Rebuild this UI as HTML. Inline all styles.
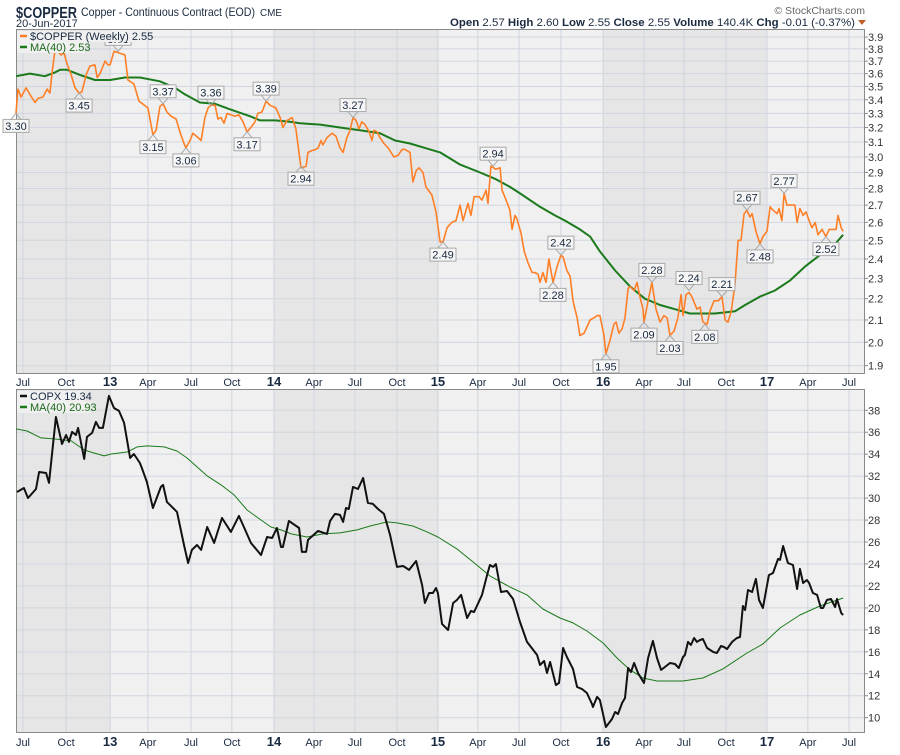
<!DOCTYPE html>
<html><head><meta charset="utf-8"><style>
html,body{margin:0;padding:0;background:#fff;}
svg text{font-family:"Liberation Sans",Arial,sans-serif;}
</style></head>
<body>
<svg id="chart" width="900" height="750" viewBox="0 0 900 750" xmlns="http://www.w3.org/2000/svg">
<g>
<text x="16" y="18" font-size="16" font-weight="bold" fill="#1a2a40" textLength="61" lengthAdjust="spacingAndGlyphs">$COPPER</text>
<text x="81" y="16" font-size="12" fill="#1a2a40" textLength="174" lengthAdjust="spacingAndGlyphs">Copper - Continuous Contract (EOD)</text>
<text x="260" y="16" font-size="10" fill="#1a2a40" textLength="22" lengthAdjust="spacingAndGlyphs">CME</text>
<text x="16" y="27" font-size="11" fill="#1a2a40">20-Jun-2017</text>
<text x="865" y="14" font-size="10.5" fill="#666" text-anchor="end">© StockCharts.com</text>
<text x="450" y="26" font-size="11" fill="#1a2a40" textLength="405" lengthAdjust="spacingAndGlyphs"><tspan font-weight="bold">Open</tspan> 2.57 <tspan font-weight="bold">High</tspan> 2.60 <tspan font-weight="bold">Low</tspan> 2.55 <tspan font-weight="bold">Close</tspan> 2.55 <tspan font-weight="bold">Volume</tspan> 140.4K <tspan font-weight="bold">Chg</tspan> -0.01 (-0.37%)</text>
<polygon points="858,20 866,20 862,25" fill="#c0602a"/>
</g>
<g id="p1"></g>
<g id="xa1"></g>
<g id="p2"></g>
<g id="xa2"></g>
</svg>
<script>
// ---- data ----
const tickWeeks=[2.2,15.8,29.7,41.6,55.2,68.1,81.4,94.0,106.9,120.2,133.1,145.7,158.7,171.9,185.2,198.1,210.7,224.0,236.9,249.8,262.8];
const tickLabels=["Jul","Oct","13","Apr","Jul","Oct","14","Apr","Jul","Oct","15","Apr","Jul","Oct","16","Apr","Jul","Oct","17","Apr","Jul"];
const yearStartWeeks=[0,29.7,81.4,133.1,185.2,236.9,262.8];
const copperTicks=[1.9,2.0,2.1,2.2,2.3,2.4,2.5,2.6,2.7,2.8,2.9,3.0,3.1,3.2,3.3,3.4,3.5,3.6,3.7,3.8,3.9];
const copxTicks=[10,12,14,16,18,20,22,24,26,28,30,32,34,36,38];
const copperWeeks=[0,0.6,1.6,3.2,4.4,6.0,6.9,8.5,9.8,10.7,11.4,12.3,13.2,14.2,15.1,16.1,17.4,18.6,19.9,20.8,22.1,23.3,24.9,25.6,26.5,28.1,29.0,29.7,30.9,32.2,34.4,35.3,37.2,38.8,41.6,43.2,44.2,45.4,46.4,47.6,48.9,50.5,51.7,53.0,53.6,54.9,55.8,57.4,58.4,59.6,60.6,61.5,62.8,63.7,64.7,65.6,66.6,67.8,69.1,70.3,71.6,72.9,74.1,75.4,76.3,77.6,78.9,80.1,82.0,83.3,84.2,85.5,87.1,88.3,89.9,91.5,92.1,93.1,94.6,95.3,96.2,96.8,98.1,99.7,100.9,102.2,103.2,104.4,105.4,106.3,107.3,108.2,109.1,110.1,111.4,112.3,112.9,113.9,114.8,116.1,117.4,119.2,120.5,121.8,122.7,124.3,125.2,126.2,127.1,128.4,129.3,131.2,132.5,133.8,134.7,136.0,137.5,138.8,140.1,141.0,142.6,143.5,144.5,146.1,147.0,148.3,148.9,149.8,151.4,152.7,153.3,154.6,155.8,156.5,157.4,158.0,159.3,160.3,161.5,162.8,163.7,164.7,165.3,166.2,167.2,168.1,169.4,170.7,171.9,172.6,173.8,174.8,175.7,177.0,177.9,179.2,181.1,182.3,183.3,184.2,185.5,186.1,187.4,188.6,189.3,190.2,191.2,192.1,193.1,193.7,195.0,195.9,196.8,197.8,198.1,199.4,200.6,201.9,203.2,204.4,205.4,206.3,207.6,208.8,209.8,210.4,211.4,212.3,213.2,214.8,215.8,216.7,218.0,218.9,220.2,221.5,222.7,223.7,224.6,225.6,226.8,227.8,228.7,229.7,230.6,231.5,232.2,233.4,234.7,235.6,236.9,237.9,238.8,240.1,240.7,241.6,242.3,243.2,244.5,245.7,246.4,247.3,248.3,249.2,250.2,251.1,252.1,253.0,254.3,255.5,256.5,257.7,258.7,259.3,260.3,260.9];
const copperValues=[3.30,3.48,3.42,3.49,3.44,3.38,3.41,3.42,3.48,3.45,3.61,3.79,3.78,3.75,3.77,3.68,3.59,3.49,3.45,3.46,3.59,3.66,3.67,3.57,3.60,3.70,3.67,3.67,3.78,3.77,3.75,3.55,3.52,3.39,3.34,3.15,3.18,3.35,3.37,3.31,3.28,3.26,3.17,3.09,3.06,3.11,3.16,3.13,3.11,3.27,3.34,3.36,3.36,3.26,3.27,3.23,3.30,3.29,3.28,3.29,3.24,3.17,3.20,3.24,3.30,3.31,3.39,3.36,3.34,3.27,3.20,3.25,3.27,3.19,2.93,2.94,3.03,3.04,3.05,3.06,3.11,3.08,3.13,3.16,3.14,3.06,3.03,3.13,3.18,3.27,3.25,3.19,3.24,3.22,3.17,3.11,3.18,3.17,3.13,3.09,3.06,3.00,3.01,3.05,3.05,3.03,2.84,2.91,2.93,2.90,2.81,2.76,2.66,2.49,2.49,2.57,2.60,2.61,2.70,2.61,2.71,2.64,2.75,2.75,2.73,2.79,2.71,2.94,2.92,2.93,2.79,2.73,2.67,2.56,2.64,2.62,2.54,2.44,2.38,2.33,2.33,2.32,2.28,2.33,2.28,2.40,2.28,2.36,2.42,2.41,2.34,2.31,2.19,2.11,2.03,2.04,2.10,2.11,2.12,2.12,2.03,1.95,2.01,2.08,2.09,2.04,2.06,2.11,2.25,2.26,2.24,2.28,2.21,2.15,2.09,2.19,2.28,2.15,2.09,2.12,2.11,2.03,2.05,2.11,2.22,2.12,2.22,2.23,2.21,2.15,2.16,2.09,2.08,2.14,2.19,2.19,2.21,2.10,2.09,2.14,2.27,2.50,2.50,2.65,2.67,2.63,2.65,2.55,2.48,2.52,2.55,2.69,2.67,2.65,2.68,2.61,2.77,2.70,2.70,2.70,2.60,2.68,2.64,2.66,2.61,2.57,2.60,2.53,2.56,2.52,2.56,2.56,2.56,2.64,2.57,2.55];
const copperMaWeeks=[0,4.4,9.1,12.3,13.9,16.1,20.2,24.9,29.7,34.4,39.1,45.4,50.2,53.3,58.0,62.8,67.5,73.8,77.0,81.7,86.4,89.6,95.9,102.2,108.5,114.8,119.6,124.3,129.0,133.8,140.1,146.4,151.1,155.8,159.0,165.3,170.0,173.2,177.9,181.1,184.2,189.0,193.7,198.4,203.2,207.9,212.6,215.8,220.5,226.8,230.0,234.7,239.4,244.2,248.9,253.6,258.4,260.9];
const copperMaValues=[3.58,3.60,3.58,3.61,3.63,3.63,3.59,3.55,3.55,3.57,3.57,3.54,3.49,3.44,3.38,3.37,3.33,3.28,3.25,3.25,3.24,3.23,3.22,3.20,3.18,3.16,3.11,3.09,3.06,3.03,2.95,2.90,2.86,2.81,2.77,2.69,2.64,2.61,2.56,2.52,2.44,2.34,2.26,2.20,2.17,2.15,2.13,2.13,2.13,2.14,2.17,2.21,2.24,2.29,2.36,2.42,2.48,2.53];
const annoWeeks=[0,19.9,32.2,43.2,46.4,53.6,61.5,72.9,78.9,89.9,106.3,134.7,150.5,169.4,171.9,186.1,198.1,200.6,206.3,212.3,217.3,222.7,230.6,234.7,242.3,255.5];
const annoValues=[3.30,3.45,3.78,3.15,3.37,3.06,3.36,3.17,3.39,2.94,3.27,2.49,2.94,2.28,2.42,1.95,2.09,2.28,2.03,2.24,2.08,2.21,2.67,2.48,2.77,2.52];
const annoIsHigh=[0,0,1,0,1,0,1,0,1,0,1,0,1,0,1,0,0,1,0,1,0,1,1,0,1,0];
const copxWeeks=[0.3,2.5,3.8,6.3,7.3,9.5,10.4,12.6,14.5,15.8,16.7,17.7,18.9,19.6,21.5,22.4,24.0,25.2,26.2,27.4,29.3,30.9,32.5,34.1,36.0,37.2,39.1,39.7,41.3,43.2,45.7,46.4,47.6,50.8,53.0,54.3,55.5,57.1,58.4,60.3,62.5,65.0,67.8,70.3,71.9,74.1,77.3,79.2,80.8,82.3,83.6,84.2,86.1,89.3,90.2,91.5,92.1,95.3,98.1,99.1,100.6,102.2,103.2,104.1,105.0,106.3,107.9,109.5,111.0,112.6,114.2,116.1,118.0,120.2,122.1,124.0,126.2,128.1,129.0,130.3,131.5,132.5,133.1,134.4,136.3,137.9,139.1,140.4,142.3,143.5,144.5,147.0,148.6,149.5,150.5,151.4,153.0,154.9,156.8,159.0,161.2,164.4,165.3,166.6,167.5,168.5,170.3,171.3,172.6,173.8,175.7,177.0,178.5,180.1,181.7,182.0,183.3,184.2,186.1,188.0,189.0,189.9,191.2,192.1,193.1,194.0,195.0,196.2,198.1,199.4,200.9,202.2,203.5,204.7,206.3,207.9,209.1,210.4,211.0,212.0,212.9,213.9,214.8,215.8,216.7,218.0,219.9,221.1,222.4,223.3,224.3,225.9,227.4,228.4,229.3,230.0,230.9,232.2,233.4,234.4,235.6,237.5,238.8,240.4,241.0,242.0,243.5,245.1,246.4,247.3,248.3,249.5,250.2,251.4,252.7,253.9,254.6,255.8,257.1,258.4,259.0,260.3,260.9];
const copxValues=[30.56,30.92,30.01,30.83,32.38,32.29,31.38,37.39,34.93,35.75,35.12,36.03,35.75,36.39,33.57,35.57,35.94,36.94,36.39,36.39,39.31,38.21,37.94,36.85,33.66,34.02,33.20,32.75,31.47,29.10,31.02,31.20,29.65,28.74,25.73,24.09,25.28,25.73,25.28,27.37,25.92,28.19,26.92,28.38,27.37,25.92,24.82,26.46,26.37,27.28,25.55,25.55,27.92,27.28,25.10,25.10,26.19,27.01,26.74,27.92,28.56,28.47,27.83,29.10,29.01,31.02,30.83,31.83,29.56,29.47,29.01,28.56,26.64,23.73,23.82,23.46,24.27,22.09,20.45,21.36,21.36,21.81,21.36,18.54,17.99,20.45,20.72,21.18,19.08,19.72,19.63,21.18,23.00,23.91,23.73,24.00,21.45,21.54,20.81,18.72,16.90,15.71,14.80,15.17,14.07,15.07,12.98,13.16,16.35,15.53,14.44,12.80,12.62,12.25,11.25,10.97,11.89,11.61,9.15,9.88,10.52,10.34,11.34,11.79,14.53,14.16,14.98,14.07,13.16,15.44,16.99,15.44,14.35,14.62,14.98,14.89,14.53,15.53,15.71,16.90,16.62,17.26,16.90,17.08,17.17,16.35,15.99,15.89,16.53,16.44,16.26,16.90,17.26,17.35,20.17,19.81,21.63,21.45,22.64,20.72,19.99,22.99,23.18,24.46,24.37,25.64,24.09,23.91,21.72,23.55,22.27,22.54,22.27,21.36,21.18,19.99,19.99,20.72,20.81,20.08,20.81,19.54,19.34];
const copxMaWeeks=[0,3.5,7.9,12.0,17.4,21.5,24.6,27.8,30.0,35.0,38.2,41.3,46.7,50.8,53.9,57.1,60.3,64.7,68.8,72.9,77.3,80.4,83.6,86.8,91.8,96.8,102.2,107.6,111.7,117.0,120.2,125.2,129.7,133.1,139.1,144.2,149.5,155.8,161.2,166.2,171.6,175.7,180.1,185.2,189.6,193.7,197.8,202.2,210.4,216.7,223.0,230.6,235.6,241.0,247.3,253.6,260.9];
const copxMaValues=[36.30,36.11,35.48,35.39,35.21,34.38,34.11,33.84,34.02,34.20,34.66,34.75,34.66,34.29,33.66,32.84,32.02,31.20,30.29,28.92,28.01,27.37,27.10,26.74,26.46,26.74,26.83,27.10,27.46,27.83,27.74,27.46,26.92,26.46,25.37,24.18,22.91,21.90,21.18,19.90,19.08,18.63,17.90,16.80,15.44,14.35,13.62,13.34,13.34,13.62,14.44,15.89,16.71,18.17,19.35,20.17,20.90];

// ---- layout ----
const NS="http://www.w3.org/2000/svg";
const L=16,R=865,P1T=29,P1B=374,P2T=389,P2B=733;
function X(w){return L+w*3.17;}
function Y1(v){return 365.7-457*Math.log(v/1.9);}
function Y2(v){return 717.7-(v-10)*10.98;}
function mk(parent,tag,attrs){const e=document.createElementNS(NS,tag);for(const k in attrs)e.setAttribute(k,attrs[k]);parent.appendChild(e);return e;}
function path(ws,vs,Y){return ws.map((w,i)=>(i?"L":"M")+X(w).toFixed(1)+","+Y(vs[i]).toFixed(1)).join("");}

function panel(g,top,bot,ticks,Y,fmt){
  const bg=mk(g,"rect",{x:L,y:top,width:R-L,height:bot-top,fill:"#f0f0f0"});
  
  
  for(let i=0;i<yearStartWeeks.length-1;i+=2){
    const s=mk(g,"rect",{x:X(yearStartWeeks[i]),y:top,width:X(yearStartWeeks[i+1])-X(yearStartWeeks[i]),height:bot-top,fill:"#e6e6e6"});
    
    
  }
  ticks.forEach(t=>{
    const y=Y(t);
    const gl=mk(g,"line",{x1:L,x2:R,y1:y,y2:y,stroke:"#d0d6df","stroke-width":1});
    
    
    const tk=mk(g,"line",{x1:R,x2:R+3,y1:y,y2:y,stroke:"#888","stroke-width":1});
    
    
    const tx=mk(g,"text",{x:R+3,y:y+4,"font-size":11,fill:"#333"});
    tx.textContent=fmt(t);
    
    
  });
  tickWeeks.forEach(w=>{
    const x=X(w); if(x>R)return;
    const vl=mk(g,"line",{x1:x,x2:x,y1:top,y2:bot,stroke:"#cfd5de","stroke-width":1});
    
    
  });
  const br=mk(g,"rect",{x:L+0.5,y:top+0.5,width:R-L-1,height:bot-top-1,fill:"none",stroke:"#8a8a8a","stroke-width":1});
  
  
}
function xaxis(g,y){
  tickWeeks.forEach((w,i)=>{
    const t=mk(g,"text",{x:X(w),y:y,"font-size":/^\d+$/.test(tickLabels[i])?13:11,"font-weight":/^\d+$/.test(tickLabels[i])?"bold":"normal",fill:"#1a2a40","text-anchor":"middle"});
    t.textContent=tickLabels[i];
    
    
  });
}
function legend(g,x,y,items){
  items.forEach((it,i)=>{
    const yy=y+i*11;
    const r=mk(g,"rect",{x:x,y:yy-9,width:it.w,height:11,fill:"#f0f0f0"});
    
    
    const ln=mk(g,"line",{x1:x+3,x2:x+10,y1:yy-4,y2:yy-4,stroke:it.c,"stroke-width":2.5});
    
    
    const t=mk(g,"text",{x:x+13,y:yy,"font-size":11,fill:it.tc});
    t.textContent=it.t;
    
    
  });
}

const p1=document.getElementById("p1"),p2=document.getElementById("p2");
panel(p1,P1T,P1B,copperTicks,Y1,v=>v.toFixed(1));
panel(p2,P2T,P2B,copxTicks,Y2,v=>String(v));
xaxis(document.getElementById("xa1"),386);
xaxis(document.getElementById("xa2"),746);

const ma1=mk(p1,"path",{d:path(copperMaWeeks,copperMaValues,Y1),fill:"none",stroke:"#1b7a1b","stroke-width":2,"stroke-linejoin":"round"});


const cu=mk(p1,"path",{d:path(copperWeeks,copperValues,Y1),fill:"none",stroke:"#ff7f27","stroke-width":1.6,"stroke-linejoin":"round"});



annoWeeks.forEach((w,i)=>{
  const px=X(w),py=Y1(annoValues[i]),hi=annoIsHigh[i];
  const bw=26,bh=13;
  let bx=px-bw/2; if(bx<0)bx=0;
  const by=hi?py-6-bh:py+6;
  const g=mk(p1,"g",{});
  
  
  const tip=hi?`M${px-5},${by+bh} L${px},${py} L${px+5},${by+bh}`:`M${px-5},${by} L${px},${py} L${px+5},${by}`;
  mk(g,"path",{d:tip,fill:"none",stroke:"#a8a8a8","stroke-width":1});
  mk(g,"rect",{x:bx,y:by,width:bw,height:bh,fill:"#f6f6f6",stroke:"#a8a8a8","stroke-width":1});
  const t=mk(g,"text",{x:bx+bw/2,y:by+10.5,"font-size":11,fill:"#1a2a40","text-anchor":"middle"});
  t.textContent=annoValues[i].toFixed(2);
});

const ma2=mk(p2,"path",{d:path(copxMaWeeks,copxMaValues,Y2),fill:"none",stroke:"#1b7a1b","stroke-width":1,"stroke-linejoin":"round"});


const cx=mk(p2,"path",{d:path(copxWeeks,copxValues,Y2),fill:"none",stroke:"#111","stroke-width":2,"stroke-linejoin":"round"});



legend(p1,17,40,[{t:"$COPPER (Weekly) 2.55",c:"#ff7f27",tc:"#1a2a40",w:125},{t:"MA(40) 2.53",c:"#1b7a1b",tc:"#1b6a1b",w:68}]);
legend(p2,17,400,[{t:"COPX 19.34",c:"#111",tc:"#1a2a40",w:68},{t:"MA(40) 20.93",c:"#1b7a1b",tc:"#1b6a1b",w:73}]);
</script>
</body></html>
